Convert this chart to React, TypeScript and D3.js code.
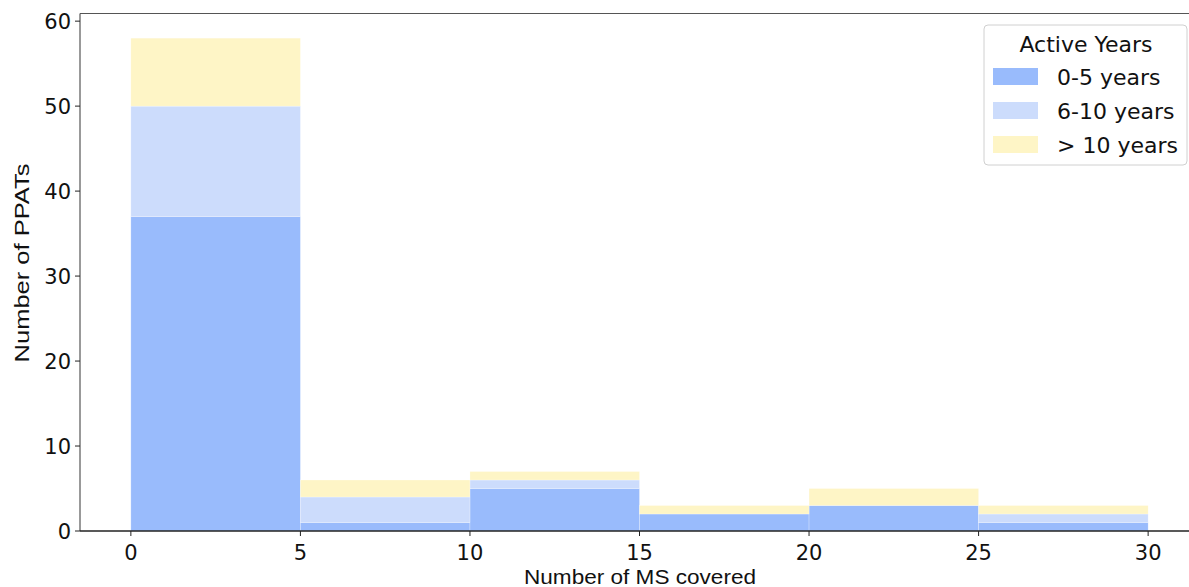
import React from "react";
import * as d3 from "d3";

// Histogram bins: number of member states covered
const binEdges = [0, 5, 10, 15, 20, 25, 30];
// Counts per bin for each active-years group (stacked bottom to top)
const years0to5 = [37, 1, 5, 2, 3, 1];
const years6to10 = [13, 3, 1, 0, 0, 1];
const years10plus = [8, 2, 1, 1, 2, 1];

const seriesNames = ["0-5 years", "6-10 years", "> 10 years"];
const seriesColors = ["#99bbfc", "#ccdcfc", "#fef5c6"];
const xTicks = [0, 5, 10, 15, 20, 25, 30];
const yTicks = [0, 10, 20, 30, 40, 50, 60];

const W = 1189;
const H = 587;
const left = 80;
const top = 13.5;
const bottom = 531;

export default function App() {
  const x = d3.scaleLinear().domain([-1.5, 31.5]).range([left, 1199]);
  const y = d3.scaleLinear().domain([0, 60.9]).range([bottom, top]);

  const rows = years0to5.map((_, i) => ({
    x0: binEdges[i],
    x1: binEdges[i + 1],
    a: years0to5[i],
    b: years6to10[i],
    c: years10plus[i],
  }));
  const stack = d3.stack<any>().keys(["a", "b", "c"])(rows);

  const tickFont = "'DejaVu Sans', sans-serif";
  const labelFont = "'Liberation Sans', Arial, sans-serif";

  return (
    <div style={{ position: "absolute", left: 0, top: 0 }}>
      <svg width={W} height={H} style={{ display: "block", background: "#fff" }}>
        {stack.map((layer, si) =>
          layer.map((d, i) => {
            const h = y(d[0]) - y(d[1]);
            if (h <= 0) return null;
            return (
              <rect
                key={`${si}-${i}`}
                x={x(rows[i].x0)}
                y={y(d[1])}
                width={x(rows[i].x1) - x(rows[i].x0)}
                height={h}
                fill={seriesColors[si]}
                stroke="#ffffff"
                strokeWidth={0.5}
                strokeOpacity={0.5}
              />
            );
          })
        )}

        {/* spines */}
        <line x1={left} x2={W} y1={top} y2={top} stroke="#555" strokeWidth={1.2} />
        <line x1={left} x2={left} y1={top} y2={bottom} stroke="#555" strokeWidth={1.2} />
        <line x1={left} x2={W} y1={bottom} y2={bottom} stroke="#222" strokeWidth={1.5} />

        {/* x axis ticks */}
        {xTicks.map((t) => (
          <g key={`xt${t}`}>
            <line x1={x(t)} x2={x(t)} y1={bottom} y2={bottom + 5} stroke="#222" strokeWidth={1} />
            <text
              x={x(t)}
              y={bottom + 29}
              textAnchor="middle"
              fontFamily={tickFont}
              fontSize={21}
              fill="#111"
            >
              {t}
            </text>
          </g>
        ))}

        {/* y axis ticks */}
        {yTicks.map((t) => (
          <g key={`yt${t}`}>
            <line x1={left - 5} x2={left} y1={y(t)} y2={y(t)} stroke="#222" strokeWidth={1} />
            <text
              x={left - 9}
              y={y(t)}
              dy="0.36em"
              textAnchor="end"
              fontFamily={tickFont}
              fontSize={21}
              fill="#111"
            >
              {t}
            </text>
          </g>
        ))}

        {/* axis labels */}
        <text
          x={640}
          y={584}
          textAnchor="middle"
          fontFamily={labelFont}
          fontSize={20}
          textLength={232}
          lengthAdjust="spacingAndGlyphs"
          fill="#111"
        >
          Number of MS covered
        </text>
        <text
          transform={`translate(29,${263}) rotate(-90)`}
          textAnchor="middle"
          fontFamily={labelFont}
          fontSize={20}
          textLength={199}
          lengthAdjust="spacingAndGlyphs"
          fill="#111"
        >
          Number of PPATs
        </text>

        {/* legend */}
        <g>
          <rect x={984} y={25} width={203} height={140} rx={4} fill="#fff" fillOpacity={0.9} stroke="#d0d0d0" strokeWidth={1} />
          <text x={1086} y={52} textAnchor="middle" fontFamily={tickFont} fontSize={22} fill="#111">
            Active Years
          </text>
          {seriesNames.map((name, i) => (
            <g key={name}>
              <rect x={993} y={68 + i * 34} width={45} height={17} fill={seriesColors[i]} />
              <text x={1057} y={77 + i * 34} dy="0.36em" fontFamily={tickFont} fontSize={22} fill="#111">
                {name}
              </text>
            </g>
          ))}
        </g>
      </svg>
    </div>
  );
}
